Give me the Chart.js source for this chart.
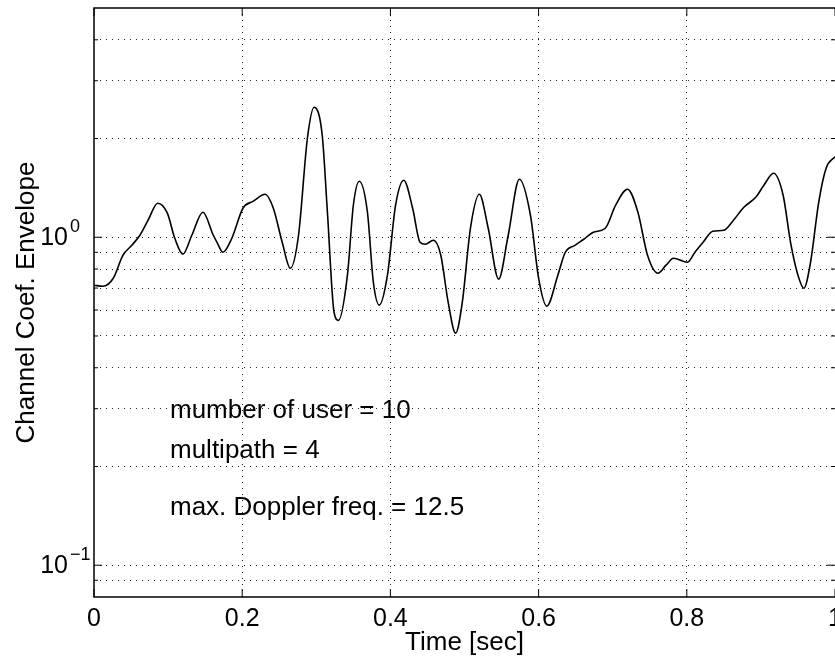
<!DOCTYPE html>
<html lang="en">
<head>
<meta charset="UTF-8">
<title>Channel Coef. Envelope</title>
<script src="https://cdn.jsdelivr.net/npm/chart.js"></script>
<style>
  html, body { margin: 0; padding: 0; background: #fff; }
  #wrap { width: 835px; height: 659px; }
</style>
</head>
<body>
<div id="wrap"><canvas id="envChart"></canvas></div>
<script>
// values (time in sec, envelope on a log axis)
const timeSec = [0, 0.012, 0.026, 0.039, 0.051, 0.062, 0.073, 0.086, 0.099, 0.109, 0.120, 0.132,
  0.147, 0.161, 0.166, 0.174, 0.186, 0.201, 0.215, 0.231, 0.242, 0.254, 0.265, 0.276, 0.288,
  0.297, 0.308, 0.315, 0.324, 0.330, 0.342, 0.350, 0.358, 0.369, 0.377, 0.385, 0.396, 0.407,
  0.418, 0.430, 0.440, 0.447, 0.458, 0.468, 0.478, 0.488, 0.497, 0.508, 0.520, 0.532, 0.546,
  0.559, 0.574, 0.589, 0.600, 0.611, 0.626, 0.636, 0.649, 0.661, 0.674, 0.690, 0.704, 0.720,
  0.734, 0.747, 0.761, 0.772, 0.782, 0.801, 0.811, 0.822, 0.835, 0.850, 0.863, 0.877, 0.893,
  0.904, 0.917, 0.930, 0.940, 0.950, 0.958, 0.967, 0.978, 0.988, 1.0];
const envelope = [0.714, 0.709, 0.750, 0.881, 0.945, 1.014, 1.127, 1.270, 1.184, 0.993, 0.888, 1.014,
  1.192, 1.014, 0.965, 0.900, 0.993, 1.226, 1.288, 1.352, 1.226, 0.965, 0.804, 1.014, 2.004,
  2.490, 2.046, 1.192, 0.590, 0.558, 0.766, 1.252, 1.482, 1.192, 0.729, 0.621, 0.766, 1.252,
  1.492, 1.226, 0.965, 0.952, 0.979, 0.881, 0.633, 0.510, 0.633, 1.065, 1.352, 1.065, 0.745,
  1.014, 1.502, 1.167, 0.750, 0.616, 0.766, 0.900, 0.945, 0.986, 1.036, 1.065, 1.252, 1.401,
  1.192, 0.881, 0.777, 0.822, 0.863, 0.839, 0.900, 0.965, 1.043, 1.050, 1.127, 1.234, 1.324,
  1.440, 1.567, 1.343, 0.965, 0.766, 0.699, 0.839, 1.278, 1.623, 1.760];

const xTicks = [0, 0.2, 0.4, 0.6, 0.8, 1];
const yGrid = [0.09, 0.1, 0.2, 0.3, 0.4, 0.5, 0.6, 0.7, 0.8, 0.9, 1, 2, 3, 4];
const yLabels = [
  { value: 0.1, base: '10', exp: '\u22121' },
  { value: 1, base: '10', exp: '0' }
];
const notes = ['mumber of user = 10', 'multipath = 4', 'max. Doppler freq. = 12.5'];

const FONT = '"Liberation Sans", Arial, Helvetica, sans-serif';
Chart.defaults.font.family = FONT;
Chart.defaults.color = '#000';

// matlab style box, inward ticks, 10^n labels and the text block
const matlabAxes = {
  id: 'matlabAxes',
  afterDraw(chart) {
    const { ctx, chartArea: a, scales: { x, y } } = chart;
    ctx.save();
    ctx.strokeStyle = '#000';
    ctx.lineWidth = 1.5;
    ctx.beginPath();
    ctx.moveTo(a.right, a.top);
    ctx.lineTo(a.left, a.top);
    ctx.lineTo(a.left, a.bottom);
    ctx.lineTo(a.right, a.bottom);
    ctx.stroke();

    ctx.lineWidth = 1;
    ctx.beginPath();
    xTicks.forEach(v => {
      const px = x.getPixelForValue(v);
      ctx.moveTo(px, a.bottom); ctx.lineTo(px, a.bottom - 8);
      ctx.moveTo(px, a.top); ctx.lineTo(px, a.top + 8);
    });
    yGrid.forEach(v => {
      const py = y.getPixelForValue(v);
      const len = (v === 1 || v === 0.1) ? 8 : 4;
      ctx.moveTo(a.left, py); ctx.lineTo(a.left + len, py);
      ctx.moveTo(a.right, py); ctx.lineTo(a.right - len, py);
    });
    ctx.stroke();

    ctx.fillStyle = '#000';
    ctx.textBaseline = 'middle';
    yLabels.forEach(l => {
      const py = y.getPixelForValue(l.value);
      ctx.font = '25px ' + FONT;
      ctx.textAlign = 'right';
      ctx.fillText(l.base, a.left - 26, py + 1);
      ctx.font = '18px ' + FONT;
      ctx.textAlign = 'left';
      ctx.fillText(l.exp, a.left - 24, py - 10);
    });

    ctx.font = '26px ' + FONT;
    ctx.textAlign = 'left';
    const rows = [403, 443, 500];
    notes.forEach((t, i) => ctx.fillText(t, a.left + 76, a.top + rows[i]));
    ctx.restore();
  }
};

const ctx = document.getElementById('envChart').getContext('2d');
new Chart(ctx, {
  type: 'line',
  data: {
    datasets: [{
      data: timeSec.map((t, i) => ({ x: t, y: envelope[i] })),
      borderColor: '#000',
      borderWidth: 1.6,
      pointRadius: 0,
      cubicInterpolationMode: 'monotone',
      fill: false
    }]
  },
  options: {
    responsive: true,
    maintainAspectRatio: false,
    animation: false,
    layout: { padding: { top: 8, right: -1, left: 0, bottom: 0 } },
    plugins: { legend: { display: false }, tooltip: { enabled: false } },
    scales: {
      x: {
        type: 'linear',
        min: 0,
        max: 1,
        afterBuildTicks: s => { s.ticks = xTicks.map(v => ({ value: v })); },
        afterFit: s => { s.height = 62; s.paddingLeft = 0; s.paddingRight = 0; },
        ticks: {
          padding: 7,
          maxRotation: 0,
          autoSkip: false,
          font: { size: 25 },
          callback: v => String(Number(v.toFixed(1)))
        },
        grid: {
          drawTicks: false,
          lineWidth: 1,
          color: c => (c.tick && (c.tick.value === 0 || c.tick.value === 1)) ? 'rgba(0,0,0,0)' : '#222'
        },
        border: { display: false, dash: [1, 5] },
        title: {
          display: true,
          text: 'Time [sec]',
          font: { size: 26 },
          padding: { top: 0, bottom: 1 }
        }
      },
      y: {
        type: 'logarithmic',
        min: 0.08,
        max: 5,
        afterBuildTicks: s => { s.ticks = yGrid.map(v => ({ value: v })); },
        afterFit: s => { s.width = 94; },
        ticks: { display: false },
        grid: { drawTicks: false, lineWidth: 1, color: '#222' },
        border: { display: false, dash: [1, 5] },
        title: {
          display: true,
          text: 'Channel Coef. Envelope',
          font: { size: 26 },
          padding: { top: 11, bottom: 0 }
        }
      }
    }
  },
  plugins: [matlabAxes]
});
</script>
</body>
</html>
